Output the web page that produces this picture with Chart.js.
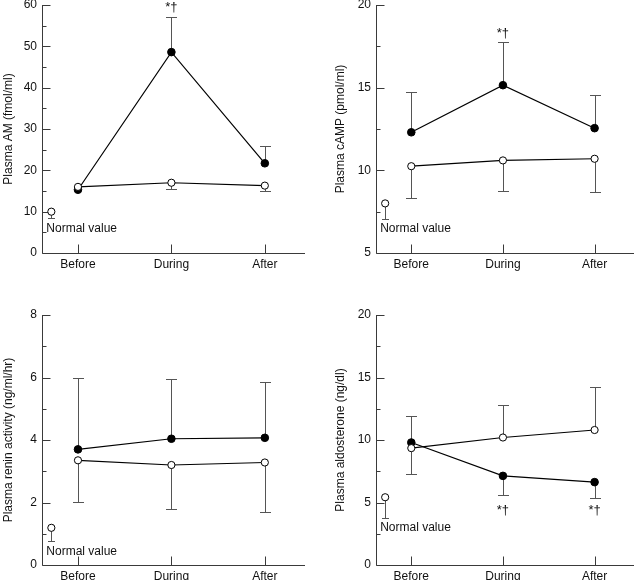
<!DOCTYPE html>
<html>
<head>
<meta charset="utf-8">
<script src="https://cdn.jsdelivr.net/npm/chart.js@4/dist/chart.umd.min.js"></script>
<style>
  html, body { margin: 0; padding: 0; background: #fff; }
  #wrap { position: relative; width: 640px; height: 580px; }
  .cell { position: absolute; width: 320px; height: 290px; }
  canvas { display: block; }
</style>
</head>
<body>
<div id="wrap">
  <div class="cell" style="left:0;top:0"><canvas id="amChart" width="320" height="290"></canvas></div>
  <div class="cell" style="left:320px;top:0"><canvas id="campChart" width="320" height="290"></canvas></div>
  <div class="cell" style="left:0;top:290px"><canvas id="reninChart" width="320" height="290"></canvas></div>
  <div class="cell" style="left:320px;top:290px"><canvas id="aldoChart" width="320" height="290"></canvas></div>
</div>
<script>
const periods = ["Before", "During", "After"];
const normalX = -0.285;

// Plasma AM (fmol/ml)
const amFilled = [15.3, 48.6, 21.7];
const amFilledErr = [null, 57.1, 25.8];
const amOpen = [16.0, 17.0, 16.3];
const amOpenErr = [null, 15.4, 14.9];
const amNormal = [10.0, 8.4];

// Plasma cAMP (pmol/ml)
const campFilled = [12.3, 15.15, 12.55];
const campFilledErr = [14.75, 17.75, 14.55];
const campOpen = [10.25, 10.6, 10.7];
const campOpenErr = [8.35, 8.75, 8.7];
const campNormal = [8.0, 7.07];

// Plasma renin activity (ng/ml/hr)
const reninFilled = [3.7, 4.04, 4.07];
const reninFilledErr = [6.0, 5.96, 5.85];
const reninOpen = [3.35, 3.2, 3.28];
const reninOpenErr = [2.03, 1.78, 1.7];
const reninNormal = [1.19, 0.76];

// Plasma aldosterone (ng/dl)
const aldoFilled = [9.8, 7.13, 6.63];
const aldoFilledErr = [7.3, 5.6, 5.4];
const aldoOpen = [9.35, 10.2, 10.8];
const aldoOpenErr = [11.9, 12.77, 14.26];
const aldoNormal = [5.42, 3.77];

const FONT = "'Liberation Sans', Arial, Helvetica, sans-serif";
const AXIS = "#3a3a3a";
const ERR = "#555";

const pts = arr => arr.map((v, i) => ({ x: i, y: v }));

// axes with inward ticks, error bars and text marks
const decorPlugin = {
  id: "decor",
  beforeDatasetsDraw(chart) {
    const { ctx, chartArea: a, scales: { x, y } } = chart;
    const o = chart.options.plugins.decor;
    ctx.save();
    ctx.strokeStyle = ERR;
    ctx.lineWidth = 1;
    const bar = (xv, from, to, cap) => {
      if (to === null || to === undefined) return;
      const px = Math.round(x.getPixelForValue(xv)) + 0.5;
      const p0 = y.getPixelForValue(from), p1 = Math.round(y.getPixelForValue(to)) + 0.5;
      ctx.beginPath();
      ctx.moveTo(px, p0); ctx.lineTo(px, p1);
      ctx.moveTo(px - cap, p1); ctx.lineTo(px + cap, p1);
      ctx.stroke();
    };
    o.errors.forEach(e => e.ends.forEach((end, i) => bar(i, e.values[i], end, 5.5)));
    bar(normalX, o.normal[0], o.normal[1], 3.5);

    // axes
    ctx.strokeStyle = AXIS;
    ctx.beginPath();
    const L = Math.round(a.left) + 0.5, B = Math.round(a.bottom) + 0.5;
    ctx.moveTo(L, a.top); ctx.lineTo(L, B); ctx.lineTo(a.right, B);
    y.ticks.forEach(t => {
      const py = Math.round(y.getPixelForValue(t.value)) + 0.5;
      ctx.moveTo(L, py); ctx.lineTo(L + (t.label !== "" ? 8 : 4), py);
    });
    periods.forEach((p, i) => {
      const px = Math.round(x.getPixelForValue(i)) + 0.5;
      ctx.moveTo(px, B); ctx.lineTo(px, B - 9);
    });
    ctx.stroke();

    // text
    ctx.fillStyle = "#111";
    ctx.font = "12px " + FONT;
    ctx.textAlign = "left";
    ctx.textBaseline = "middle";
    ctx.fillText("Normal value", x.getPixelForValue(normalX) - 5, y.getPixelForValue(o.normal[1]) + 10);
    ctx.font = "13px " + FONT;
    ctx.textAlign = "center";
    o.stars.forEach(s => ctx.fillText("*†", x.getPixelForValue(s.x), y.getPixelForValue(s.y)));
    ctx.restore();
  }
};

function makeChart(id, cfg) {
  new Chart(document.getElementById(id), {
    type: "line",
    data: {
      datasets: [
        { data: pts(cfg.open), borderColor: "#000", borderWidth: 1.2, pointRadius: 3.6,
          pointBackgroundColor: "#fff", pointBorderColor: "#000", pointBorderWidth: 1 },
        { data: pts(cfg.filled), borderColor: "#000", borderWidth: 1.2, pointRadius: 3.8,
          pointBackgroundColor: "#000", pointBorderColor: "#000", pointBorderWidth: 1 },
        { data: [{ x: normalX, y: cfg.normal[0] }], showLine: false, pointRadius: 3.6,
          pointBackgroundColor: "#fff", pointBorderColor: "#000", pointBorderWidth: 1 }
      ]
    },
    options: {
      responsive: false,
      animation: false,
      clip: false,
      layout: { padding: { left: 0, top: cfg.top, right: cfg.right, bottom: 0 } },
      plugins: {
        legend: { display: false },
        tooltip: { enabled: false },
        decor: {
          errors: [{ values: cfg.filled, ends: cfg.filledErr }, { values: cfg.open, ends: cfg.openErr }],
          normal: cfg.normal,
          stars: cfg.stars
        }
      },
      scales: {
        x: {
          type: "linear", min: -0.385, max: 2.43,
          afterBuildTicks: s => { s.ticks = periods.map((p, i) => ({ value: i })); },
          afterFit: s => { s.height = 290 - cfg.bottom; s.paddingLeft = 0; s.paddingRight = 0; },
          ticks: { callback: v => periods[v], padding: 4, autoSkip: false, maxRotation: 0,
                   color: "#111", font: { family: FONT, size: 12 } },
          grid: { display: false, drawTicks: false },
          border: { display: false }
        },
        y: {
          min: cfg.min, max: cfg.max,
          afterFit: s => { s.width = cfg.axisX; s.paddingTop = 0; s.paddingBottom = 0; },
          ticks: {
            stepSize: cfg.step, autoSkip: false,
            callback: v => (Math.abs(v / cfg.label - Math.round(v / cfg.label)) < 1e-6 ? String(v) : ""),
            padding: 5, color: "#111", font: { family: FONT, size: 12 }
          },
          grid: { display: false, drawTicks: false },
          border: { display: false },
          title: { display: true, text: cfg.title, color: "#111", font: { family: FONT, size: 12 },
                   padding: { top: cfg.titlePad, bottom: 0 } }
        }
      }
    },
    plugins: [decorPlugin]
  });
}

makeChart("amChart", {
  title: "Plasma AM (fmol/ml)", min: 0, max: 60, step: 5, label: 10,
  filled: amFilled, filledErr: amFilledErr, open: amOpen, openErr: amOpenErr, normal: amNormal,
  stars: [{ x: 1, y: 59.3 }],
  axisX: 42, top: 4, right: 15, bottom: 253, titlePad: 1
});
makeChart("campChart", {
  title: "Plasma cAMP (pmol/ml)", min: 5, max: 20, step: 2.5, label: 5,
  filled: campFilled, filledErr: campFilledErr, open: campOpen, openErr: campOpenErr, normal: campNormal,
  stars: [{ x: 1, y: 18.3 }],
  axisX: 56, top: 4, right: 6, bottom: 253, titlePad: 13
});
makeChart("reninChart", {
  title: "Plasma renin activity (ng/ml/hr)", min: 0, max: 8, step: 1, label: 2,
  filled: reninFilled, filledErr: reninFilledErr, open: reninOpen, openErr: reninOpenErr, normal: reninNormal,
  stars: [],
  axisX: 42, top: 25, right: 15, bottom: 275, titlePad: 1
});
makeChart("aldoChart", {
  title: "Plasma aldosterone (ng/dl)", min: 0, max: 20, step: 2.5, label: 5,
  filled: aldoFilled, filledErr: aldoFilledErr, open: aldoOpen, openErr: aldoOpenErr, normal: aldoNormal,
  stars: [{ x: 1, y: 4.4 }, { x: 2, y: 4.4 }],
  axisX: 56, top: 25, right: 6, bottom: 275, titlePad: 13
});
</script>
</body>
</html>
